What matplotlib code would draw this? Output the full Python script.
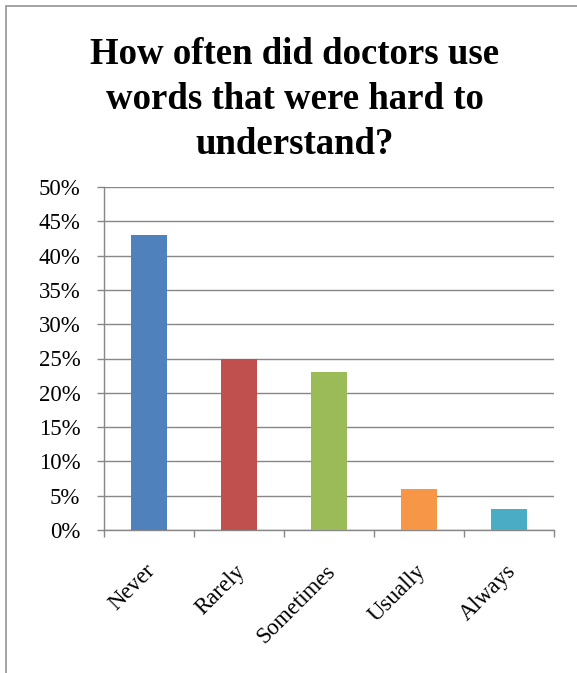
import matplotlib
matplotlib.use("Agg")
import matplotlib.pyplot as plt
import matplotlib.transforms as mtransforms
from matplotlib.patches import Rectangle
from matplotlib.ticker import FixedLocator, PercentFormatter

categories = ["Never", "Rarely", "Sometimes", "Usually", "Always"]
shares = [43, 25, 23, 6, 3]
bar_colors = ["#4F81BD", "#C0504D", "#9BBB59", "#F79646", "#4BACC6"]
y_ticks = [0, 5, 10, 15, 20, 25, 30, 35, 40, 45, 50]
title = "How often did doctors use\nwords that were hard to\nunderstand?"

W, H = 577, 673
GRID = "#878787"

plt.rcParams["font.family"] = ["Liberation Serif", "DejaVu Serif"]

fig = plt.figure(figsize=(W / 100, H / 100), dpi=100)
fig.patch.set_facecolor("white")

# chart border (only the left and top edges fall inside the canvas)
fig.patches.append(Rectangle((5.5 / W, -0.2), 2.0, 1.2 - 5.5 / H,
                             transform=fig.transFigure, fill=False,
                             edgecolor="#8a8a8a", linewidth=1.1))

ax = fig.add_axes([104 / W, 1 - 530 / H, (554 - 104) / W, (530 - 187) / H])
x = range(len(categories))
ax.bar(x, shares, width=0.4, color=bar_colors, zorder=3)

ax.set_xlim(-0.5, len(categories) - 0.5)
ax.set_ylim(0, 50)
ax.yaxis.set_major_locator(FixedLocator(y_ticks))
ax.yaxis.set_major_formatter(PercentFormatter(decimals=0))
ax.grid(axis="y", color=GRID, linewidth=1.0, zorder=0)

for side in ("top", "right"):
    ax.spines[side].set_visible(False)
for side in ("left", "bottom"):
    ax.spines[side].set_color(GRID)
    ax.spines[side].set_linewidth(1.0)

ax.tick_params(axis="y", direction="out", length=5, width=1.0, color=GRID,
               labelsize=16.5, pad=12)
ax.tick_params(axis="x", which="major", length=0, labelsize=16.5, pad=22)
ax.set_xticks(list(x))
ax.set_xticklabels(categories, rotation=45, ha="right", va="top",
                   rotation_mode="anchor")
shift = mtransforms.ScaledTranslation(-4 / 100, 0, fig.dpi_scale_trans)
for lbl in ax.get_xticklabels():
    lbl.set_transform(lbl.get_transform() + shift)
ax.set_xticks([i - 0.5 for i in range(len(categories) + 1)], minor=True)
ax.tick_params(axis="x", which="minor", direction="out", length=5,
               width=1.0, color=GRID)

fig.text(295 / W, 1 - 37 / H, title, ha="center", va="top",
         fontsize=26.5, fontweight="bold", linespacing=1.37)

fig.savefig("out.png", dpi=100)
